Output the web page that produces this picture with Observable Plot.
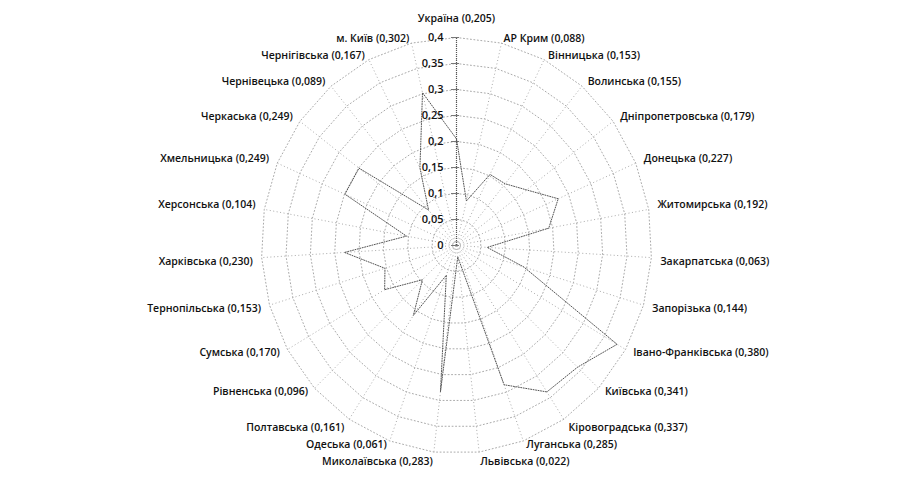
<!DOCTYPE html>
<html><head><meta charset="utf-8">
<script src="https://cdn.jsdelivr.net/npm/d3@7"></script>
<script src="https://cdn.jsdelivr.net/npm/@observablehq/plot@0.6"></script>
<style>body{margin:0;background:#fff}</style>
</head><body><div id="chart"></div>
<script>
const regions = ["Україна","АР Крим","Вінницька","Волинська","Дніпропетровська","Донецька","Житомирська","Закарпатська","Запорізька","Івано-Франківська","Київська","Кіровоградська","Луганська","Львівська","Миколаївська","Одеська","Полтавська","Рівненська","Сумська","Тернопільська","Харківська","Херсонська","Хмельницька","Черкаська","Чернівецька","Чернігівська","м. Київ"];
const values = [0.205,0.088,0.153,0.155,0.179,0.227,0.192,0.063,0.144,0.380,0.341,0.337,0.285,0.022,0.283,0.061,0.161,0.096,0.170,0.153,0.230,0.104,0.249,0.249,0.089,0.167,0.302];
const ticks = [0,0.05,0.1,0.15,0.2,0.25,0.3,0.35,0.4];
const tickLabels = ["0","0,05","0,1","0,15","0,2","0,25","0,3","0,35","0,4"];

const W = 903, H = 477, kx = 488, ky = 520, cx = 456, cy = 245;
const n = regions.length;
const ang = i => i * 2 * Math.PI / n;
const rMax = ticks[ticks.length - 1];
const fmt = v => v.toFixed(3).replace(".", ",");

const pts = regions.map((r, i) => ({name: r, v: values[i], a: ang(i)}));
const poly = pts.concat([pts[0]]).map(p => ({x: p.v * Math.sin(p.a), y: p.v * Math.cos(p.a)}));

const rings = [];
ticks.filter(t => t > 0).forEach(t => {
  for (let i = 0; i <= n; i++) rings.push({t, x: t * Math.sin(ang(i % n)), y: t * Math.cos(ang(i % n))});
});
const spokes = pts.map(p => ({x2: rMax * Math.sin(p.a), y2: rMax * Math.cos(p.a)}));

const labels = pts.map(p => {
  const s = Math.sin(p.a), c = Math.cos(p.a);
  let dy = c > 0.99 ? -20 : c > 0 ? -5 : c < -0.99 ? 11 : c < -0.9 ? 5 : c < -0.8 ? 9 : 4;
  return {
    text: `${p.name} (${fmt(p.v)})`,
    x: (204 / kx) * s,
    y: (207 / ky) * c - dy / ky,
    anchor: s > 0.05 ? "start" : s < -0.05 ? "end" : "middle"
  };
});
const tickData = ticks.map((t, i) => ({t, label: tickLabels[i]}));

const font = "'Open Sans', 'Noto Sans', sans-serif";
const textOpts = {fontSize: 10.5, fill: "#111", fontWeight: 600};

const chart = Plot.plot({
  width: W, height: H, margin: 0,
  style: {fontFamily: font, background: "#fff"},
  x: {domain: [-cx / kx, (W - cx) / kx], axis: null},
  y: {domain: [-(H - cy) / ky, cy / ky], axis: null},
  marks: [
    Plot.line(rings, {x: "x", y: "y", z: "t", stroke: "#aaa", strokeWidth: 1, strokeDasharray: "1,2.5"}),
    Plot.link(spokes, {x1: 0, y1: 0, x2: "x2", y2: "y2", stroke: "#aaa", strokeWidth: 1, strokeDasharray: "1,2.5"}),
    Plot.ruleX([0], {y1: 0, y2: rMax, stroke: "#555", strokeWidth: 1.2, strokeDasharray: "1,1"}),
    Plot.ruleY(tickData, {y: "t", x1: -5 / kx, x2: 3 / kx, stroke: "#777", strokeWidth: 1}),
    Plot.line(poly, {x: "x", y: "y", stroke: "#555", strokeWidth: 1, strokeDasharray: "1,1.5"}),
    Plot.text(tickData, {x: -13 / kx, y: "t", text: "label", textAnchor: "end", ...textOpts, fontSize: 11}),
    Plot.text(labels.filter(d => d.anchor === "start"), {x: "x", y: "y", text: "text", textAnchor: "start", ...textOpts}),
    Plot.text(labels.filter(d => d.anchor === "end"), {x: "x", y: "y", text: "text", textAnchor: "end", ...textOpts}),
    Plot.text(labels.filter(d => d.anchor === "middle"), {x: "x", y: "y", text: "text", textAnchor: "middle", ...textOpts})
  ]
});
document.getElementById("chart").append(chart);
</script>
</body></html>
